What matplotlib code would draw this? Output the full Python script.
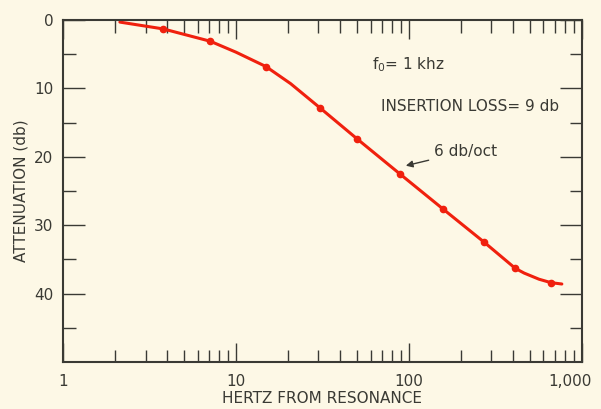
import numpy as np
import matplotlib.pyplot as plt
import matplotlib.transforms as mtransforms
from matplotlib.ticker import FixedLocator, NullFormatter

hertz = [2.13, 3.8, 7.1, 10.0, 14.9, 20.7, 30.8, 50.3, 88.7, 157, 273, 412, 464, 566, 663, 767]
atten = [0.3, 1.3, 3.1, 4.7, 6.8, 9.3, 12.9, 17.4, 22.5, 27.6, 32.5, 36.3, 37.0, 37.9, 38.4, 38.6]
marked = [1, 2, 4, 6, 7, 8, 9, 10, 11, 14]

x_ticks = [1, 10, 100, 1000]
x_labels = ['1', '10', '100', '1,000']
y_ticks = [0, 10, 20, 30, 40]
y_labels = ['0', '10', '20', '30', '40']

bg = '#fdf8e6'
ink = '#3a3a34'
red = '#f0200e'

plt.rcParams['font.family'] = 'DejaVu Sans'
fig = plt.figure(figsize=(6.01, 4.09), dpi=100, facecolor=bg)
ax = fig.add_axes([0.105, 0.115, 0.863, 0.836])
ax.set_facecolor(bg)

ax.plot(hertz, atten, color=red, lw=2.2, marker='o', ms=4.5,
        markevery=marked, solid_capstyle='round', solid_joinstyle='round')

ax.set_xscale('log')
ax.set_xlim(1, 1000)
ax.set_ylim(50, 0)

ax.xaxis.set_major_locator(FixedLocator(x_ticks))
ax.set_xticklabels(x_labels)
minor_x = [m * d for d in (1, 10, 100) for m in range(2, 10)]
ax.xaxis.set_minor_locator(FixedLocator(minor_x))
ax.xaxis.set_minor_formatter(NullFormatter())
ax.set_yticks(y_ticks)
ax.set_yticklabels(y_labels)
ax.yaxis.set_minor_locator(FixedLocator([5, 15, 25, 35, 45]))

ax.tick_params(which='both', direction='in', top=True, right=True,
               color=ink, width=1.0, labelsize=11, labelcolor=ink)
ax.tick_params(axis='x', which='major', length=14, pad=9)
ax.tick_params(axis='x', which='minor', length=9)
ax.tick_params(axis='y', which='major', length=16, pad=7)
ax.tick_params(axis='y', which='minor', length=9)

# nudge the last x label inward so it stays on the page
last = ax.get_xticklabels()[-1]
last.set_transform(last.get_transform() +
                   mtransforms.ScaledTranslation(-12 / 100, 0, fig.dpi_scale_trans))

for s in ax.spines.values():
    s.set_color(ink)
    s.set_linewidth(1.5)

ax.set_xlabel('HERTZ FROM RESONANCE', fontsize=11, color=ink, labelpad=1)
ax.set_ylabel('ATTENUATION (db)', fontsize=11, color=ink, labelpad=4)

ax.text(0.596, 0.855, r'f$_0$= 1 khz', transform=ax.transAxes,
        fontsize=11, color=ink)
ax.text(0.612, 0.735, 'INSERTION LOSS= 9 db', transform=ax.transAxes,
        fontsize=11, color=ink)
ax.annotate('6 db/oct', xy=(96, 21.3), xytext=(140, 19.2),
            fontsize=11, color=ink, va='center',
            arrowprops=dict(arrowstyle='-|>', color=ink, lw=1.0,
                            mutation_scale=10, shrinkA=2, shrinkB=0))

plt.savefig('out.png', dpi=100, facecolor=bg)
